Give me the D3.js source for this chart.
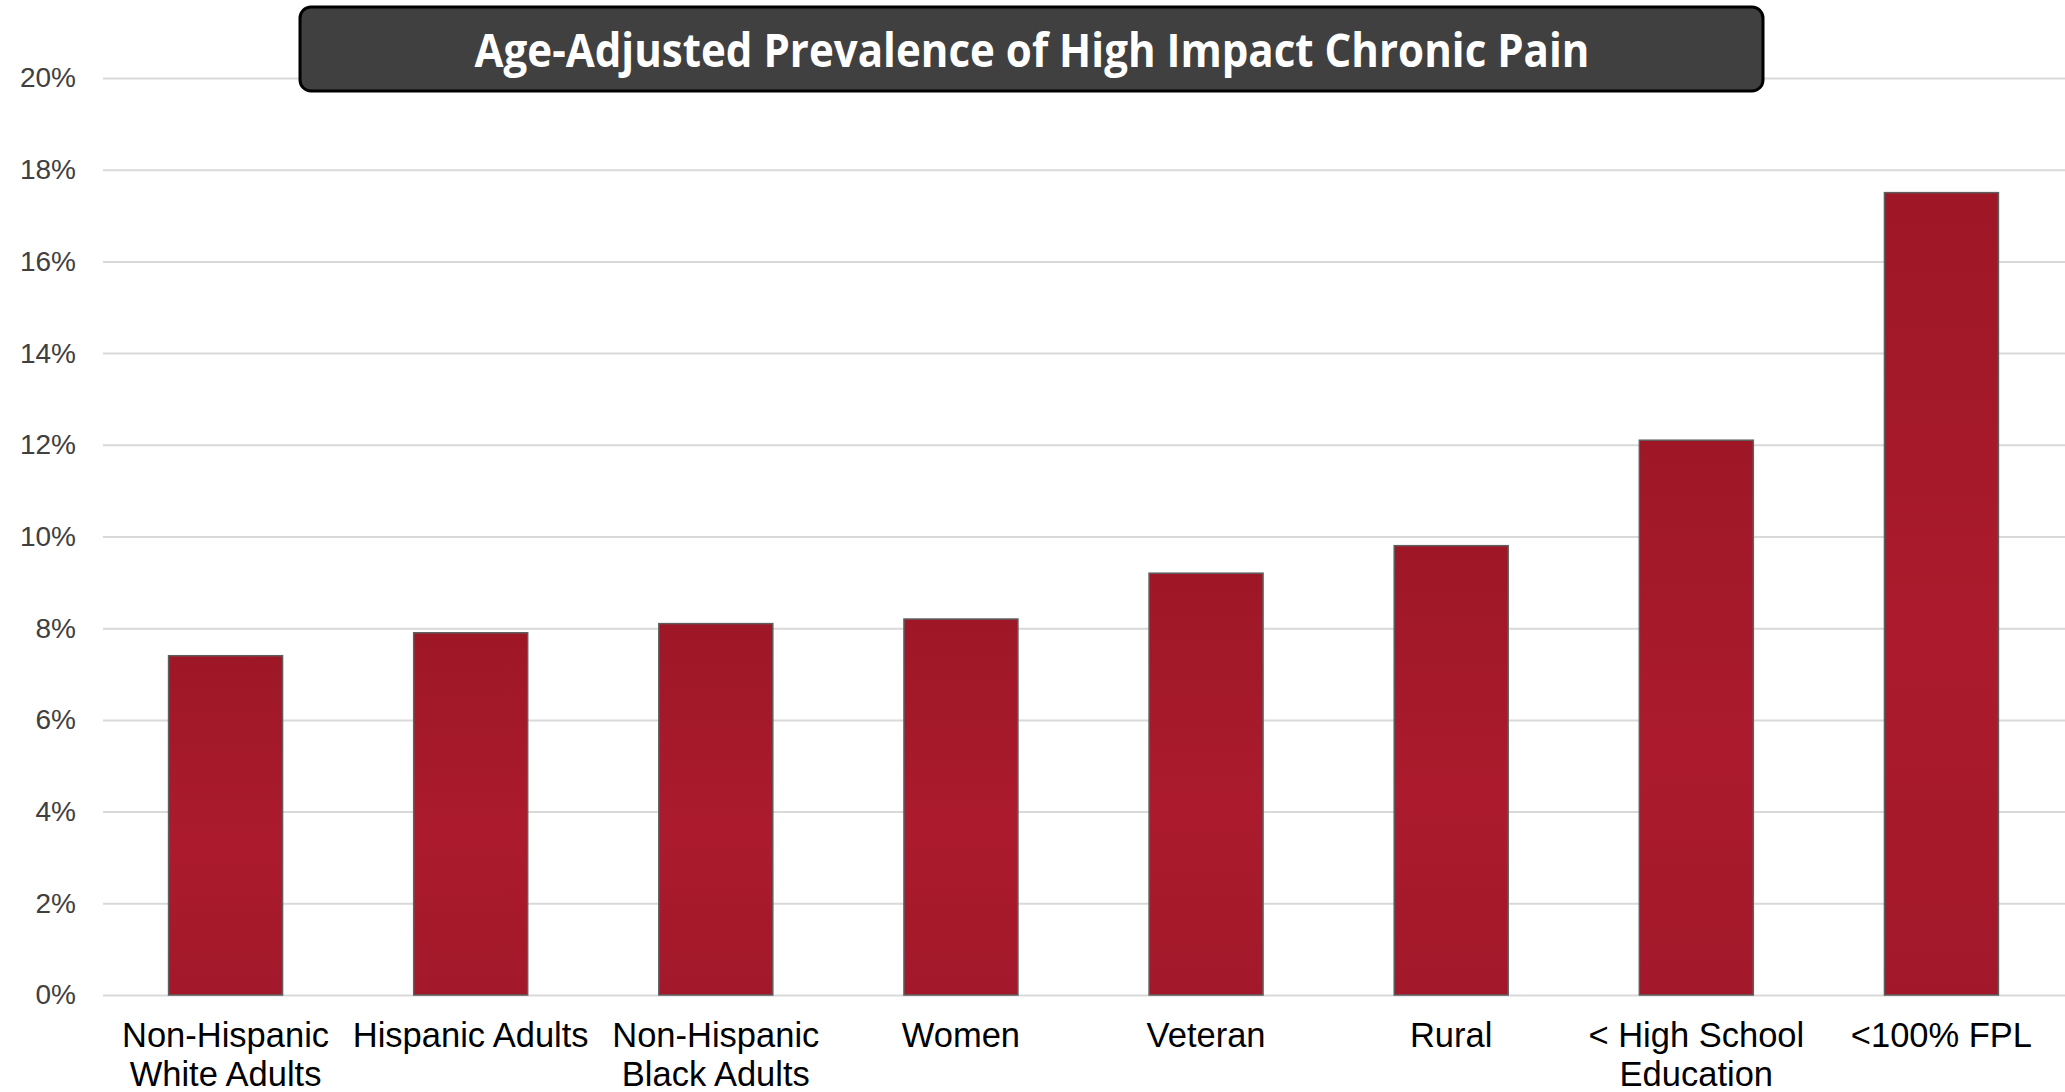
<!DOCTYPE html>
<html>
<head>
<meta charset="utf-8">
<script src="https://cdn.jsdelivr.net/npm/d3@7"></script>
<style>
  html, body { margin: 0; padding: 0; background: #fff; }
  .chart_area { width: 2065px; height: 1092px; }
</style>
</head>
<body>
<div class="chart_area"></div>
<script>
const categories = [
  ["Non-Hispanic", "White Adults"],
  ["Hispanic Adults"],
  ["Non-Hispanic", "Black Adults"],
  ["Women"],
  ["Veteran"],
  ["Rural"],
  ["< High School", "Education"],
  ["<100% FPL"]
]
const values = [7.4, 7.9, 8.1, 8.2, 9.2, 9.8, 12.1, 17.5]
const yTicks = [0, 2, 4, 6, 8, 10, 12, 14, 16, 18, 20]
const title = "Age-Adjusted Prevalence of High Impact Chronic Pain"

let width = 2065
let height = 1092
let margin = { top: 78, left: 103, right: 1, bottom: 97 }

var svg = d3.select('.chart_area')
            .append('svg')
            .attr('width', width)
            .attr('height', height)

var defs = svg.append('defs')
var grad = defs.append('linearGradient')
               .attr('id', 'barFill')
               .attr('x1', 0).attr('y1', 0).attr('x2', 0).attr('y2', 1)
grad.append('stop').attr('offset', '0%').attr('stop-color', '#9e1727')
grad.append('stop').attr('offset', '55%').attr('stop-color', '#ab1b2d')
grad.append('stop').attr('offset', '100%').attr('stop-color', '#a2182a')

var xScale = d3.scaleBand()
               .domain(d3.range(categories.length))
               .range([margin.left, width - margin.right])
               .paddingInner(0.535)
               .paddingOuter(0.2675)

var yScale = d3.scaleLinear()
               .domain([0, 20])
               .range([height - margin.bottom, margin.top])

// gridlines
svg.append('g')
   .attr('class', 'grid')
   .attr('transform', `translate(${margin.left}, 0)`)
   .call(d3.axisLeft(yScale)
           .tickValues(yTicks)
           .tickSize(-(width - margin.left))
           .tickFormat(''))
   .call(g => g.select('.domain').remove())
   .call(g => g.selectAll('line').attr('stroke', '#d9d9d9').attr('stroke-width', 2))

// y labels
svg.append('g')
   .attr('class', 'y axis')
   .attr('transform', 'translate(76, 0)')
   .call(d3.axisLeft(yScale)
           .tickValues(yTicks)
           .tickSize(0)
           .tickPadding(0)
           .tickFormat(d => d + '%'))
   .call(g => g.select('.domain').remove())
   .call(g => g.selectAll('text')
               .attr('fill', '#404040')
               .attr('font-family', 'Liberation Sans, Arial, sans-serif')
               .attr('font-size', 28))

// bars
svg.append('g')
   .selectAll('rect')
   .data(values)
   .enter()
   .append('rect')
   .attr('x', (d, i) => xScale(i))
   .attr('y', d => yScale(d))
   .attr('width', xScale.bandwidth())
   .attr('height', d => yScale(0) - yScale(d))
   .attr('fill', 'url(#barFill)')
   .attr('stroke', '#5e5e5e')
   .attr('stroke-width', 1.5)

// x labels
var xl = svg.append('g')
            .selectAll('text')
            .data(categories)
            .enter()
            .append('text')
            .attr('x', (d, i) => xScale(i) + xScale.bandwidth() / 2)
            .attr('y', 1047)
            .attr('text-anchor', 'middle')
            .attr('fill', '#000')
            .attr('font-family', 'Liberation Sans, Arial, sans-serif')
            .attr('font-size', 34.5)

xl.selectAll('tspan')
  .data(d => d)
  .enter()
  .append('tspan')
  .attr('x', function() { return d3.select(this.parentNode).attr('x') })
  .attr('dy', (d, i) => i === 0 ? 0 : 39)
  .text(d => d)

// title box
svg.append('rect')
   .attr('x', 300)
   .attr('y', 7)
   .attr('width', 1463)
   .attr('height', 84)
   .attr('rx', 11)
   .attr('fill', '#404040')
   .attr('stroke', '#000')
   .attr('stroke-width', 3)

svg.append('text')
   .attr('x', 1032)
   .attr('y', 50)
   .attr('dy', '0.36em')
   .attr('text-anchor', 'middle')
   .attr('fill', '#fff')
   .attr('font-family', 'Open Sans, sans-serif')
   .attr('font-weight', 700)
   .attr('font-size', 46)
   .attr('textLength', 1115)
   .attr('lengthAdjust', 'spacingAndGlyphs')
   .text(title)
</script>
</body>
</html>
